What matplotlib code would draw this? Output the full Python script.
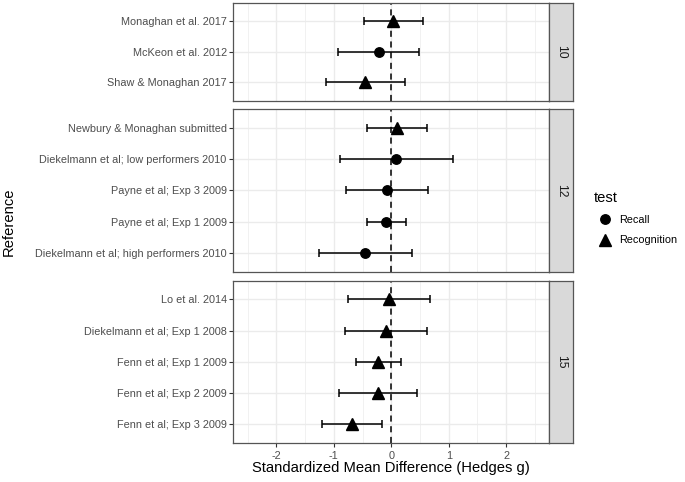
import matplotlib
matplotlib.use("Agg")
import matplotlib.pyplot as plt
from matplotlib.lines import Line2D

plt.rcParams["font.family"] = ["Liberation Sans", "DejaVu Sans"]
plt.rcParams["axes.unicode_minus"] = False

W, H = 685, 482

# facet groups (top to bottom within each panel)
groups = ["10", "12", "15"]

refs_10 = ["Monaghan et al. 2017", "McKeon et al. 2012", "Shaw & Monaghan 2017"]
est_10 = [0.035, -0.21, -0.46]
lo_10 = [-0.475, -0.92, -1.13]
hi_10 = [0.56, 0.49, 0.23]
test_10 = ["Recognition", "Recall", "Recognition"]

refs_12 = ["Newbury & Monaghan submitted", "Diekelmann et al; low performers 2010",
           "Payne et al; Exp 3 2009", "Payne et al; Exp 1 2009",
           "Diekelmann et al; high performers 2010"]
est_12 = [0.10, 0.09, -0.075, -0.087, -0.45]
lo_12 = [-0.43, -0.89, -0.79, -0.43, -1.25]
hi_12 = [0.615, 1.08, 0.64, 0.255, 0.36]
test_12 = ["Recognition", "Recall", "Recall", "Recall", "Recall"]

refs_15 = ["Lo et al. 2014", "Diekelmann et al; Exp 1 2008", "Fenn et al; Exp 1 2009",
           "Fenn et al; Exp 2 2009", "Fenn et al; Exp 3 2009"]
est_15 = [-0.035, -0.10, -0.225, -0.235, -0.68]
lo_15 = [-0.75, -0.80, -0.62, -0.915, -1.21]
hi_15 = [0.67, 0.63, 0.165, 0.44, -0.16]
test_15 = ["Recognition"] * 5

panels = [
    (refs_10, est_10, lo_10, hi_10, test_10),
    (refs_12, est_12, lo_12, hi_12, test_12),
    (refs_15, est_15, lo_15, hi_15, test_15),
]
x_ticks = [-2, -1, 0, 1, 2]
markers = {"Recall": "o", "Recognition": "^"}
msizes = {"Recall": 6.8, "Recognition": 8.0}

# panel boxes in pixels (top, bottom)
boxes = [(2.7, 100.7), (109, 271.7), (280.7, 442.7)]
left_px, right_px, strip_w = 233.3, 549.3, 23.4

fig = plt.figure(figsize=(W / 100, H / 100), dpi=100)

border = "#555555"
for i, ((refs, est, lo, hi, test), (top, bot)) in enumerate(zip(panels, boxes)):
    ax = fig.add_axes((left_px / W, 1 - bot / H, (right_px - left_px) / W, (bot - top) / H))
    n = len(refs)
    ys = list(range(n - 1, -1, -1))
    ax.set_xlim(-2.75, 2.75)
    ax.set_ylim(-0.6, n - 1 + 0.6)
    ax.set_xticks(x_ticks)
    ax.set_xticks([-2.5, -1.5, -0.5, 0.5, 1.5, 2.5], minor=True)
    ax.set_yticks(ys)
    ax.set_yticklabels(refs)
    ax.grid(which="major", color="#EBEBEB", linewidth=1.0)
    ax.grid(which="minor", axis="x", color="#EBEBEB", linewidth=0.5)
    ax.set_axisbelow(True)
    ax.axvline(0, color="black", linestyle=(0, (4, 3)), linewidth=1.1, zorder=2)
    for y, e, l, h, t in zip(ys, est, lo, hi, test):
        ax.errorbar([e], [y], xerr=[[e - l], [h - e]], fmt="none", ecolor="black",
                    elinewidth=1.1, capsize=3.0, capthick=1.1, zorder=3)
        ax.plot([e], [y], marker=markers[t], color="black", markersize=msizes[t],
                linestyle="none", zorder=4)
    for s in ax.spines.values():
        s.set_color(border)
        s.set_linewidth(0.9)
    ax.tick_params(axis="both", which="major", length=2.8, width=0.8, color="#333333",
                   labelcolor="#4D4D4D", labelsize=7.8, pad=2)
    ax.tick_params(axis="x", which="major", pad=3.5)
    ax.tick_params(axis="both", which="minor", length=0)
    if i < len(panels) - 1:
        ax.tick_params(axis="x", which="major", labelbottom=False, length=0)

    sax = fig.add_axes((right_px / W, 1 - bot / H, strip_w / W, (bot - top) / H))
    sax.set_facecolor("#D9D9D9")
    sax.set_xticks([])
    sax.set_yticks([])
    for s in sax.spines.values():
        s.set_color(border)
        s.set_linewidth(0.9)
    sax.text(0.5, 0.5, groups[i], rotation=-90, ha="center", va="center",
             fontsize=8.8, color="#1A1A1A", transform=sax.transAxes)

fig.text(391 / W, 1 - 468 / H, "Standardized Mean Difference (Hedges g)",
         ha="center", va="center", fontsize=10.6, color="black")
fig.text(9 / W, 1 - 222 / H, "Reference", rotation=90, ha="center", va="center",
         fontsize=10.6, color="black")

handles = [
    Line2D([], [], marker="o", color="black", linestyle="none", markersize=6.8),
    Line2D([], [], marker="^", color="black", linestyle="none", markersize=8.0),
]
fig.legend(handles, ["Recall", "Recognition"], title="test", frameon=False,
           loc="upper left", bbox_to_anchor=(584 / W, 1 - 181 / H),
           fontsize=7.8, title_fontsize=10.6, handletextpad=0.3, labelspacing=0.95,
           alignment="left")

fig.savefig("out.png", dpi=100)
